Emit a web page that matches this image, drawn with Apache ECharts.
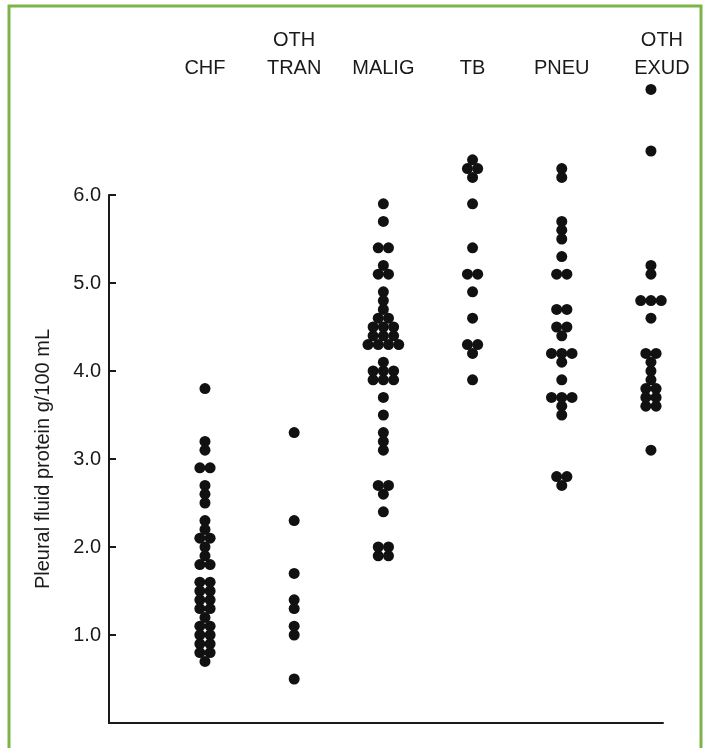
<!DOCTYPE html>
<html>
<head>
<meta charset="utf-8">
<script src="https://cdn.jsdelivr.net/npm/echarts@6/dist/echarts.min.js"></script>
<style>
  html, body { margin: 0; padding: 0; background: #fff; }
  #chart { width: 704px; height: 748px; }
</style>
</head>
<body>
<div id="chart"></div>
<script>
// Diagnostic groups, left to right
const categories = ['CHF', 'OTH\nTRAN', 'MALIG', 'TB', 'PNEU', 'OTH\nEXUD'];

// Pleural fluid protein (g/100 mL), one entry per patient
const chf = [3.8, 3.2, 3.1, 2.9, 2.9, 2.7, 2.6, 2.5, 2.3, 2.2, 2.1, 2.1, 2.0, 1.9, 1.8, 1.8,
             1.6, 1.6, 1.5, 1.5, 1.4, 1.4, 1.3, 1.3, 1.2, 1.1, 1.1, 1.0, 1.0, 0.9, 0.9, 0.8, 0.8, 0.7];
const othTran = [3.3, 2.3, 1.7, 1.4, 1.3, 1.1, 1.0, 0.5];
const malig = [5.9, 5.7, 5.4, 5.4, 5.2, 5.1, 5.1, 4.9, 4.8, 4.7, 4.6, 4.6, 4.5, 4.5, 4.5,
               4.4, 4.4, 4.4, 4.3, 4.3, 4.3, 4.3, 4.1, 4.0, 4.0, 4.0, 3.9, 3.9, 3.9,
               3.7, 3.5, 3.3, 3.2, 3.1, 2.7, 2.7, 2.6, 2.4, 2.0, 2.0, 1.9, 1.9];
const tb = [6.4, 6.3, 6.3, 6.2, 5.9, 5.4, 5.1, 5.1, 4.9, 4.6, 4.3, 4.3, 4.2, 3.9];
const pneu = [6.3, 6.2, 5.7, 5.6, 5.5, 5.3, 5.1, 5.1, 4.7, 4.7, 4.5, 4.5, 4.4, 4.2, 4.2, 4.2,
              4.1, 3.9, 3.7, 3.7, 3.7, 3.6, 3.5, 2.8, 2.8, 2.7];
const othExud = [7.2, 6.5, 5.2, 5.1, 4.8, 4.8, 4.8, 4.6, 4.2, 4.2, 4.1, 4.0, 3.9, 3.8, 3.8,
                 3.7, 3.7, 3.6, 3.6, 3.1];

const groups = [chf, othTran, malig, tb, pneu, othExud];

// Side-by-side spread for tied values, in category units
const DODGE = 0.115;

// Tied values sit in a row centred on the category; others stay on the centre line
function swarm(values, index) {
  const counts = {};
  values.forEach(v => { const k = v.toFixed(1); counts[k] = (counts[k] || 0) + 1; });
  const seen = {};
  return values.map(v => {
    const k = v.toFixed(1);
    const n = counts[k];
    seen[k] = (seen[k] === undefined) ? 0 : seen[k] + 1;
    return [index + (seen[k] - (n - 1) / 2) * DODGE, v];
  });
}

const INK = '#1a1a1a';
const FONT = '"Liberation Sans", Arial, Helvetica, sans-serif';
const X_MIN = -1.076, X_MAX = 5.135;

const chart = echarts.init(document.getElementById('chart'), null, { renderer: 'canvas' });

chart.setOption({
  animation: false,
  backgroundColor: '#ffffff',
  textStyle: { fontFamily: FONT },
  graphic: [{
    type: 'rect',
    shape: { x: 9, y: 6, width: 692, height: 780 },
    style: { fill: 'none', stroke: '#7db44a', lineWidth: 3 },
    silent: true
  }],
  grid: { left: 109, right: 41, top: 195, bottom: 25 },
  xAxis: [{
    type: 'value',
    position: 'bottom',
    min: X_MIN, max: X_MAX,
    axisLine: { show: true, onZero: false, lineStyle: { color: INK, width: 2 } },
    axisTick: { show: false },
    axisLabel: { show: false },
    splitLine: { show: false }
  }, {
    type: 'value',
    position: 'top',
    min: X_MIN, max: X_MAX,
    axisLine: { show: false, onZero: false },
    axisTick: { show: false },
    splitLine: { show: false },
    axisLabel: {
      customValues: [0, 1, 2, 3, 4, 5],
      formatter: v => {
        const name = categories[Math.round(v)];
        return Math.round(v) === 5
          ? name.split('\n').map(s => '{shift|' + s + '}').join('\n')
          : name;
      },
      margin: 113,
      fontSize: 20,
      lineHeight: 28,
      color: INK,
      fontFamily: FONT,
      rich: { shift: { fontSize: 20, lineHeight: 28, color: INK, fontFamily: FONT, padding: [0, 0, 0, 22] } }
    }
  }],
  yAxis: {
    type: 'value',
    min: 0, max: 6, interval: 1,
    name: 'Pleural fluid protein g/100 mL',
    nameLocation: 'middle',
    nameGap: 56,
    nameTextStyle: { fontSize: 20, color: INK, fontFamily: FONT },
    axisLine: { show: true, onZero: false, lineStyle: { color: INK, width: 2 } },
    axisTick: { show: true, inside: true, length: 7, lineStyle: { color: INK, width: 2 } },
    axisLabel: {
      formatter: v => (v === 0 ? '' : v.toFixed(1)),
      margin: 8,
      fontSize: 20,
      color: INK,
      fontFamily: FONT
    },
    splitLine: { show: false }
  },
  series: groups.map((g, i) => ({
    type: 'scatter',
    name: categories[i],
    xAxisIndex: 0,
    data: swarm(g, i),
    symbol: 'circle',
    symbolSize: 11,
    clip: false,
    silent: true,
    itemStyle: { color: '#111', opacity: 1 }
  }))
});
</script>
</body>
</html>
